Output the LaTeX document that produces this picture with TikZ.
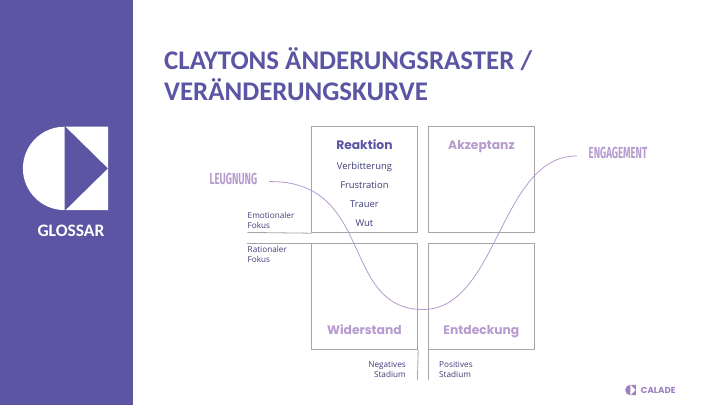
\documentclass[tikz,border=0pt]{standalone}
\usepackage{fontspec}
\setmainfont{Lato}
\newfontfamily\titlefont{Carlito}
\newfontfamily\labelfont{Open Sans}
\newfontfamily\headfont{Poppins}
\newfontfamily\condfont[FakeStretch=0.6]{Fira Sans}
\definecolor{calade}{HTML}{5B55A3}
\definecolor{lilac}{HTML}{B79BCF}
\definecolor{brandc}{HTML}{9D80C0}
\definecolor{frame}{HTML}{A6A6A6}
\definecolor{ink}{HTML}{3F3D7A}
\tikzset{
  quad/.style={draw=frame,line width=0.8pt,minimum width=106pt,minimum height=106pt,inner sep=0pt,anchor=north west},
  rule/.style={draw=frame,line width=0.8pt},
  curve/.style={draw=lilac,line width=0.8pt},
  head/.style={font=\headfont\bfseries\fontsize{12.3}{14}\selectfont,inner sep=0pt,anchor=base},
  item/.style={font=\labelfont\fontsize{9.4}{11}\selectfont,text=ink,inner sep=0pt,anchor=base},
  side/.style={font=\labelfont\fontsize{8.2}{10}\selectfont,text=ink,inner sep=0pt},
  endlabel/.style={font=\condfont\bfseries\fontsize{16}{17}\selectfont,text=lilac,inner sep=0pt},
  title/.style={font=\titlefont\bfseries\fontsize{26.9}{31}\selectfont,text=calade,inner sep=0pt,anchor=base west}
}
\begin{document}
\begin{tikzpicture}[x=1pt,y=-1pt]
\useasboundingbox (0,0) rectangle (720,405);
\fill[white] (0,0) rectangle (720,405);
\fill[calade] (0,0) rectangle (133,405);
% sidebar logo
\fill[white] (64.6,126.7) arc[start angle=270,end angle=90,radius=41.7] -- cycle;
\fill[white] (65.6,126.7) -- (108,126.7) -- (108,168.4) -- cycle;
\fill[white] (65.6,210.1) -- (108,210.1) -- (108,168.4) -- cycle;
\node[font=\titlefont\bfseries\fontsize{17.5}{20}\selectfont,text=white,inner sep=0pt,anchor=base] (glossar) at (71,236.5) {GLOSSAR};
% title
\node[title] (t1) at (164,69.5) {CLAYTONS ÄNDERUNGSRASTER /};
\node[title] (t2) at (164,100) {VERÄNDERUNGSKURVE};
% quadrants
\node[quad] (q1) at (311.4,126.4) {};
\node[quad] (q2) at (428.4,126.4) {};
\node[quad] (q3) at (311.4,243.4) {};
\node[quad] (q4) at (428.4,243.4) {};
\coordinate (eL) at (247.3,232.4);
\coordinate (rL) at (247.3,243.4);
\coordinate (nB) at (417.4,380);
\coordinate (pB) at (428.4,380);
\draw[rule] (eL) -- (q1.south west);
\draw[rule] (rL) -- (q3.north west);
\draw[rule] (q3.south east) -- (nB);
\draw[rule] (q4.south west) -- (pB);
% curve
\coordinate (c0) at (269,181.6);
\coordinate (c1) at (423,309.5);
\coordinate (c2) at (577,156);
\draw[curve] (c0) .. controls (375,180) and (340,309.5) .. (c1)
  .. controls (498,309.5) and (500,155) .. (c2);
% headings
\node[head,text=calade] (h1) at (364.4,149) {Reaktion};
\node[head,text=lilac] (h2) at (481.4,149) {Akzeptanz};
\node[head,text=lilac] (h3) at (364.4,334) {Widerstand};
\node[head,text=lilac] (h4) at (481.4,334) {Entdeckung};
% items
\node[item] (i1) at (364.4,169) {Verbitterung};
\node[item] (i2) at (364.4,188) {Frustration};
\node[item] (i3) at (364.4,207) {Trauer};
\node[item] (i4) at (364.4,226) {Wut};
% side labels
\node[side,anchor=base west] (s1) at (247.5,218.3) {Emotionaler};
\node[side,anchor=base west] (s2) at (247.5,228.3) {Fokus};
\node[side,anchor=base west] (s3) at (247.5,252) {Rationaler};
\node[side,anchor=base west] (s4) at (247.5,262) {Fokus};
\node[side,anchor=base east] (s5) at (406,367.3) {Negatives};
\node[side,anchor=base east] (s6) at (406,377.3) {Stadium};
\node[side,anchor=base west] (s7) at (439,367.3) {Positives};
\node[side,anchor=base west] (s8) at (439,377.3) {Stadium};
% end labels
\node[endlabel] (leug) at (233.5,179.3) {LEUGNUNG};
\node[endlabel] (enga) at (618,153.3) {ENGAGEMENT};
% footer logo
\begin{scope}[shift={(625.2,384.8)},scale=0.125]
\fill[brandc] (41.7,0) arc[start angle=270,end angle=90,radius=41.7] -- cycle;
\fill[brandc] (43,0) -- (85,0) -- (85,41.7) -- cycle;
\fill[brandc] (43,83.4) -- (85,83.4) -- (85,41.7) -- cycle;
\end{scope}
\node[font=\headfont\bfseries\fontsize{8.7}{10}\selectfont,text=brandc,inner sep=0pt,anchor=base west] (brand) at (640.7,393.5) {CALADE};
\end{tikzpicture}
\end{document}
